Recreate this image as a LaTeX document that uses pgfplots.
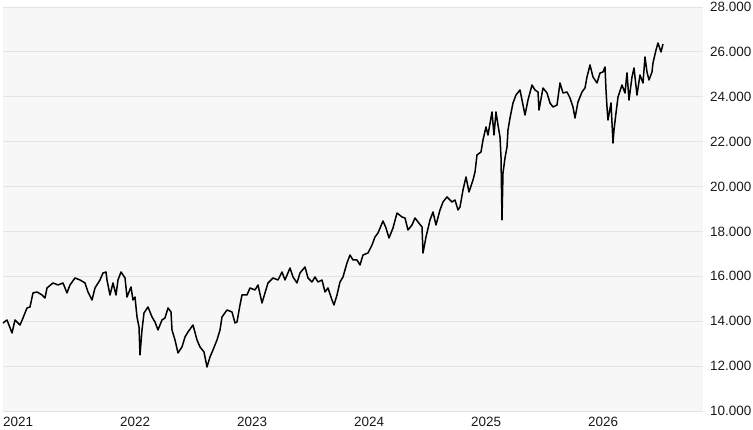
\documentclass[border=0pt]{standalone}
\usepackage{pgfplots}
\pgfplotsset{compat=1.18}
\usepackage{fontspec}
\setmainfont{Liberation Sans}
\definecolor{bgc}{HTML}{F7F7F7}
\definecolor{gridc}{HTML}{E3E3E3}
\definecolor{txtc}{HTML}{1A1A1A}
\begin{document}
\begin{tikzpicture}
\useasboundingbox (-3bp,-19bp) rectangle (750bp,411bp);
\begin{axis}[
  at={(0,0)}, anchor=south west,
  scale only axis, width=700bp, height=404bp,
  xmin=3, xmax=703, ymin=10000, ymax=28000,
  scaled y ticks=false, scaled x ticks=false,
  axis background/.style={fill=bgc},
  axis line style={draw=none},
  major tick length=0pt,
  ytick={10000,12000,14000,16000,18000,20000,22000,24000,26000,28000},
  yticklabels={10.000,12.000,14.000,16.000,18.000,20.000,22.000,24.000,26.000,28.000},
  yticklabel pos=right,
  ymajorgrids,
  grid style={gridc, line width=0.8bp},
  xtick={3,120,237,354,471,588},
  xticklabels={2021,2022,2023,2024,2025,2026},
  xticklabel style={anchor=north west, inner sep=0pt, yshift=-6bp},
  yticklabel style={anchor=west, inner sep=0pt, xshift=7bp},
  tick label style={font=\fontsize{13.5}{16}\selectfont, text=txtc},
  clip=false,
]
\addplot[black, line width=1.5bp, line join=round] coordinates {
(3,13922)(7,14056)(12,13477)(15,14056)(20,13830)(23,14145)(27,14590)(30,14635)
(33,15260)(37,15303)(42,15170)(45,15036)(47,15482)(53,15705)(58,15615)(63,15705)
(67,15260)(70,15615)(75,15928)(80,15838)(85,15705)(88,15303)(92,14947)(95,15482)
(100,15838)(103,16150)(106,16194)(107,15838)(110,15170)(113,15705)(116,15170)(118,15838)
(121,16194)(125,15928)(127,15080)(131,15526)(133,14947)(135,15080)(137,14190)(139,13740)
(140,12497)(142,13610)(144,14367)(148,14635)(152,14190)(155,13967)(158,13610)(162,14056)
(165,14145)(168,14590)(171,14412)(172,13610)(175,13165)(178,12586)(182,12853)(185,13298)
(188,13521)(193,13830)(197,13165)(200,12853)(204,12630)(207,11962)(210,12408)(213,12720)
(217,13165)(220,13610)(222,14190)(227,14500)(232,14412)(235,13922)(237,13967)(240,14724)
(242,15170)(247,15170)(250,15482)(255,15393)(258,15615)(262,14813)(265,15260)(268,15705)
(273,15928)(278,15838)(282,16194)(285,15838)(290,16372)(293,15972)(297,15705)(300,16150)
(305,16417)(308,15928)(312,15749)(315,15972)(318,15749)(322,15838)(325,15303)(328,15482)
(332,14947)(334,14724)(337,15170)(340,15749)(343,15972)(347,16595)(350,16951)(353,16728)
(357,16728)(360,16506)(363,16951)(368,17040)(372,17397)(375,17753)(378,17932)(383,18466)
(386,18154)(389,17708)(393,18154)(397,18823)(402,18645)(405,18600)(408,18065)(412,18288)
(415,18600)(418,18422)(422,18199)(423,17040)(426,17753)(430,18511)(433,18867)(436,18288)
(440,18957)(443,19313)(447,19536)(452,19313)(455,19402)(458,18957)
(460,19090)(463,19847)(466,20426)(469,19758)(473,20293)(475,20649)(477,21406)(481,21540)
(483,22075)(486,22654)(488,22298)(492,23322)(494,22298)(496,23322)(498,22743)(500,22208)
(501,21317)(502,18511)(503,20605)(505,21273)(507,21763)(508,22520)(510,23055)(513,23723)
(516,24080)(520,24302)(522,23857)(525,23189)(528,23857)(532,24525)(535,24302)(538,24213)
(539,23411)(543,24391)(547,24169)(550,23723)(553,23545)(557,23634)(560,24614)(563,24169)
(567,24213)(570,23946)(573,23545)(575,23055)(578,23768)(582,24213)(585,24391)(587,24881)
(590,25416)(593,24881)(597,24614)(600,25060)(603,25104)(605,25327)(606,24302)(607,23545)
(608,22966)(611,23723)(613,21941)(614,22520)(616,23278)(618,23990)(622,24525)(625,24169)
(627,25060)(629,23857)(632,24881)(634,25282)(637,24080)(640,24970)(643,24614)(645,25772)
(647,25104)(649,24748)(652,25104)(653,25505)(656,26084)(658,26396)(661,25995)(663,26351)
};
\end{axis}
\end{tikzpicture}
\end{document}
